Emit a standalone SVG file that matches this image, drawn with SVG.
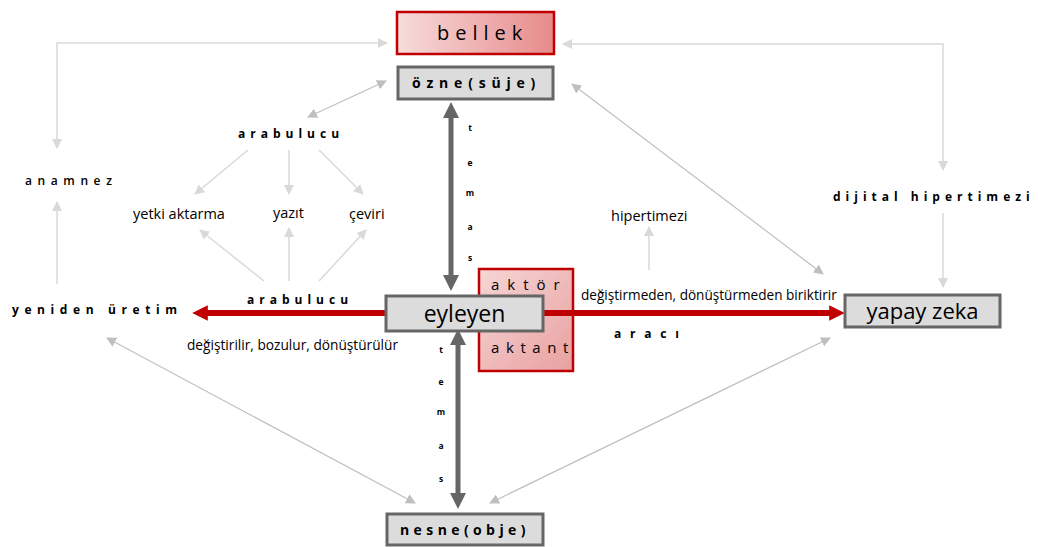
<svg xmlns="http://www.w3.org/2000/svg" width="1038" height="547" viewBox="0 0 1038 547">
<defs>
<linearGradient id="redGrad" x1="0" y1="0" x2="1" y2="0">
<stop offset="0" stop-color="#f7dcdc"/>
<stop offset="1" stop-color="#e78a8a"/>
</linearGradient>
<linearGradient id="redGradV" x1="0" y1="0" x2="1" y2="1">
<stop offset="0" stop-color="#f6d6d6"/>
<stop offset="1" stop-color="#e9a0a0"/>
</linearGradient>
<marker id="ah" viewBox="0 0 10 10" refX="9" refY="5" markerWidth="10" markerHeight="10" markerUnits="userSpaceOnUse" orient="auto-start-reverse">
<path d="M0,0 L10,5 L0,10 z" fill="#bfbfbf"/>
</marker>
<marker id="ahl" viewBox="0 0 10 10" refX="9" refY="5" markerWidth="10" markerHeight="10" markerUnits="userSpaceOnUse" orient="auto-start-reverse">
<path d="M0,0 L10,5 L0,10 z" fill="#d9d9d9"/>
</marker>
<marker id="ahd" viewBox="0 0 10 10" refX="5" refY="5" markerWidth="3.2" markerHeight="3.2" orient="auto-start-reverse">
<path d="M0,0 L10,5 L0,10 z" fill="#666"/>
</marker>
<marker id="ahr" viewBox="0 0 10 10" refX="5" refY="5" markerWidth="2.8" markerHeight="2.6" orient="auto-start-reverse">
<path d="M0,0 L10,5 L0,10 z" fill="#c00000"/>
</marker>
</defs>
<style>
.t{font-family:"Open Sans","Noto Sans",sans-serif;fill:#000}
.sp{font-weight:bold;font-size:12px;letter-spacing:5px}
.n{font-size:14.5px}
.ln{fill:none;stroke:#bfbfbf;stroke-width:1.2}
.ll{fill:none;stroke:#d9d9d9;stroke-width:1.5}
.gbox{fill:#dcdcdc;stroke:#666;stroke-width:3}
.rbox{stroke:#c00000;stroke-width:2.5}
.tm{font-weight:bold;font-size:8.5px}
</style>

<g id="connectors">
<path class="ll" d="M387,43 H57 V148" marker-start="url(#ahl)" marker-end="url(#ahl)"/>
<path class="ll" d="M563,44 H943 V170" marker-start="url(#ahl)" marker-end="url(#ahl)"/>
<line class="ln" x1="386" y1="81" x2="308" y2="117" marker-start="url(#ah)" marker-end="url(#ah)"/>
<line class="ln" x1="572" y1="84" x2="823" y2="274" marker-start="url(#ah)" marker-end="url(#ah)"/>
<line class="ll" x1="248" y1="150" x2="195" y2="194" marker-end="url(#ahl)"/>
<line class="ll" x1="289" y1="150" x2="289" y2="194" marker-end="url(#ahl)"/>
<line class="ll" x1="319" y1="150" x2="363" y2="194" marker-end="url(#ahl)"/>
<line class="ll" x1="264" y1="281" x2="200" y2="230" marker-end="url(#ahl)"/>
<line class="ll" x1="289" y1="281" x2="289" y2="228" marker-end="url(#ahl)"/>
<line class="ll" x1="319" y1="281" x2="366" y2="230" marker-end="url(#ahl)"/>
<line class="ll" x1="57" y1="284" x2="57" y2="202" marker-end="url(#ahl)"/>
<line class="ll" x1="649" y1="270" x2="649" y2="227" marker-end="url(#ahl)"/>
<line class="ll" x1="943" y1="213" x2="943" y2="287" marker-end="url(#ahl)"/>
<line class="ln" x1="107" y1="338" x2="415" y2="503" marker-start="url(#ah)" marker-end="url(#ah)"/>
<line class="ln" x1="830" y1="338" x2="490" y2="503" marker-start="url(#ah)" marker-end="url(#ah)"/>
<line x1="451" y1="110" x2="451" y2="283" stroke="#666" stroke-width="5" marker-start="url(#ahd)" marker-end="url(#ahd)"/>
<line x1="458" y1="337" x2="458" y2="501" stroke="#666" stroke-width="5" marker-start="url(#ahd)" marker-end="url(#ahd)"/>
</g>

<g id="bellek">
<rect class="rbox" x="397" y="12" width="157" height="42" fill="url(#redGrad)"/>
<text class="t" x="437" y="40" font-size="20" letter-spacing="6" fill="#222">bellek</text>
</g>
<g id="ozne">
<rect class="gbox" x="398" y="67" width="155" height="32"/>
<text class="t" x="412" y="88" font-size="14" font-weight="bold" letter-spacing="5.8">özne(süje)</text>
</g>

<g id="aktor">
<rect class="rbox" x="479" y="269" width="94" height="102" fill="url(#redGradV)"/>
<text class="t" x="491" y="290" font-size="15" letter-spacing="8">aktör</text>
<text class="t" x="491" y="353" font-size="15" letter-spacing="6.6">aktant</text>
</g>

<g id="redArrows">
<line x1="386" y1="313" x2="200" y2="313" stroke="#c00000" stroke-width="6" marker-end="url(#ahr)"/>
<line x1="543" y1="313" x2="837" y2="313" stroke="#c00000" stroke-width="6" marker-end="url(#ahr)"/>
</g>

<g id="eyleyen">
<rect class="gbox" x="386" y="296" width="157" height="35"/>
<text class="t" x="464.5" y="322" font-size="23" text-anchor="middle">eyleyen</text>
</g>

<g id="yapay">
<rect class="gbox" x="845" y="295" width="155" height="32"/>
<text class="t" x="922.5" y="319" font-size="22" text-anchor="middle">yapay zeka</text>
</g>

<g id="nesne">
<rect class="gbox" x="387" y="514" width="156" height="31"/>
<text class="t" x="400" y="535" font-size="14" font-weight="bold" letter-spacing="4.4">nesne(obje)</text>
</g>

<g id="temas1">
<text class="t tm" x="470" y="131" text-anchor="middle">t</text>
<text class="t tm" x="470" y="166" text-anchor="middle">e</text>
<text class="t tm" x="470" y="196" text-anchor="middle">m</text>
<text class="t tm" x="470" y="230" text-anchor="middle">a</text>
<text class="t tm" x="470" y="261" text-anchor="middle">s</text>
</g>
<g id="temas2">
<text class="t tm" x="441" y="353" text-anchor="middle">t</text>
<text class="t tm" x="441" y="385" text-anchor="middle">e</text>
<text class="t tm" x="441" y="415" text-anchor="middle">m</text>
<text class="t tm" x="441" y="449" text-anchor="middle">a</text>
<text class="t tm" x="441" y="482" text-anchor="middle">s</text>
</g>

<g id="arabulucu1"><text class="t sp" x="238" y="138">arabulucu</text></g>
<g id="yetki"><text class="t n" x="133" y="219">yetki aktarma</text></g>
<g id="yazit"><text class="t n" x="273" y="218">yazıt</text></g>
<g id="ceviri"><text class="t n" x="349" y="219">çeviri</text></g>
<g id="anamnez"><text class="t" x="25" y="185" font-size="12" font-weight="600" letter-spacing="5.6" fill="#222">anamnez</text></g>
<g id="yeniden"><text class="t sp" x="12" y="314" style="letter-spacing:5.6px">yeniden üretim</text></g>
<g id="arabulucu2"><text class="t sp" x="247" y="304">arabulucu</text></g>
<g id="degistirilir"><text class="t" x="187" y="350" font-size="13.7">değiştirilir, bozulur, dönüştürülür</text></g>
<g id="hipertimezi"><text class="t n" x="611" y="221" font-size="15">hipertimezi</text></g>
<g id="biriktirir"><text class="t" x="581" y="300" font-size="13.6">değiştirmeden, dönüştürmeden biriktirir</text></g>
<g id="araci"><text class="t sp" x="614" y="338" style="letter-spacing:8.8px">aracı</text></g>
<g id="dijital"><text class="t sp" x="833" y="201">dijital hipertimezi</text></g>
</svg>
